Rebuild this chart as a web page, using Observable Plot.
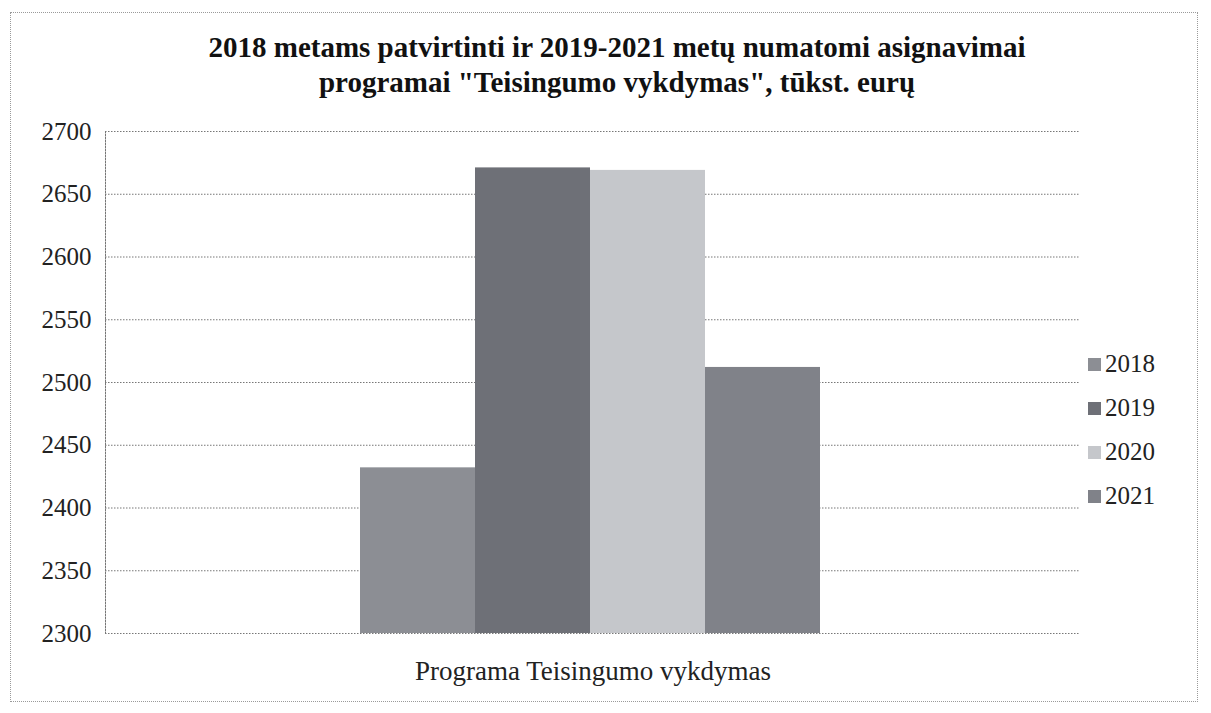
<!DOCTYPE html>
<html>
<head>
<meta charset="utf-8">
<script src="https://cdn.jsdelivr.net/npm/d3@7"></script>
<script src="https://cdn.jsdelivr.net/npm/@observablehq/plot@0.6"></script>
<style>
  html, body { margin: 0; padding: 0; background: #fff; }
  #wrap { position: relative; width: 1211px; height: 713px; overflow: hidden; font-family: "Liberation Serif", "DejaVu Serif", serif; }
  #border { position: absolute; left: 10px; top: 12px; width: 1188px; height: 690px; border: 1px dotted #9a9a9a; box-sizing: border-box; }
  #title { position: absolute; left: 0; top: 30px; width: 1234px; text-align: center; font-weight: bold; font-size: 29px; line-height: 35px; color: #111; font-family: "Liberation Serif", serif; }
  #chart { position: absolute; left: 0; top: 115px; }
  #chart svg text { font-family: "Liberation Serif", serif !important; }
  #legend { position: absolute; left: 1088px; top: 342px; font-size: 25px; color: #222; font-family: "Liberation Serif", serif; }
  #legend .item { display: flex; align-items: center; height: 44px; }
  #legend .sw { width: 13px; height: 13px; margin-right: 4px; }
</style>
</head>
<body>
<div id="wrap">
  <div id="border"></div>
  <div id="title"></div>
  <div id="chart"></div>
  <div id="legend"></div>
</div>
<script>
const titleLines = ["2018 metams patvirtinti ir 2019-2021 metų numatomi asignavimai", "programai \"Teisingumo vykdymas\", tūkst. eurų"];
const category = "Programa Teisingumo vykdymas";
const years = ["2018", "2019", "2020", "2021"];
const values = [2432, 2671, 2669, 2512];
const colors = ["#8c8e94", "#6e7077", "#c5c7cb", "#808289"];
const yTicks = [2300, 2350, 2400, 2450, 2500, 2550, 2600, 2650, 2700];

document.getElementById("title").innerHTML = titleLines.map(t => `<div>${t.replace(/</g,"&lt;")}</div>`).join("");

const data = years.map((y, i) => ({year: y, value: values[i], category}));

const W = 1211, H = 598, mL = 105, mR = 131;
const pw = W - mL - mR;

const chart = Plot.plot({
  width: W,
  height: H,
  marginLeft: mL,
  marginRight: mR,
  marginTop: 16,
  marginBottom: 80,
  style: { fontFamily: "Liberation Serif, serif", fontSize: "25px", color: "#222", background: "transparent" },
  x: { domain: years, range: [mL + 0.26 * pw, mL + 0.735 * pw], padding: 0, axis: null },
  y: { domain: [2300, 2700], ticks: yTicks, tickSize: 0, tickPadding: 14, label: null, tickFormat: d => String(d) },
  color: { domain: years, range: colors },
  marks: [
    Plot.ruleY(yTicks, { stroke: "#777", strokeDasharray: "1.5,1.5", strokeWidth: 1 }),
    Plot.frame({ anchor: "left", stroke: "#777", strokeDasharray: "1.5,1.5" }),
    Plot.barY(data, { x: "year", y1: 2300, y2: "value", fill: "year" }),
    Plot.text([category], { frameAnchor: "bottom", dy: 46, fontSize: 27, fill: "#222" })
  ]
});
document.getElementById("chart").appendChild(chart);

document.getElementById("legend").innerHTML = years.map((y, i) =>
  `<div class="item"><div class="sw" style="background:${colors[i]}"></div><span>${y}</span></div>`).join("");
</script>
</body>
</html>
